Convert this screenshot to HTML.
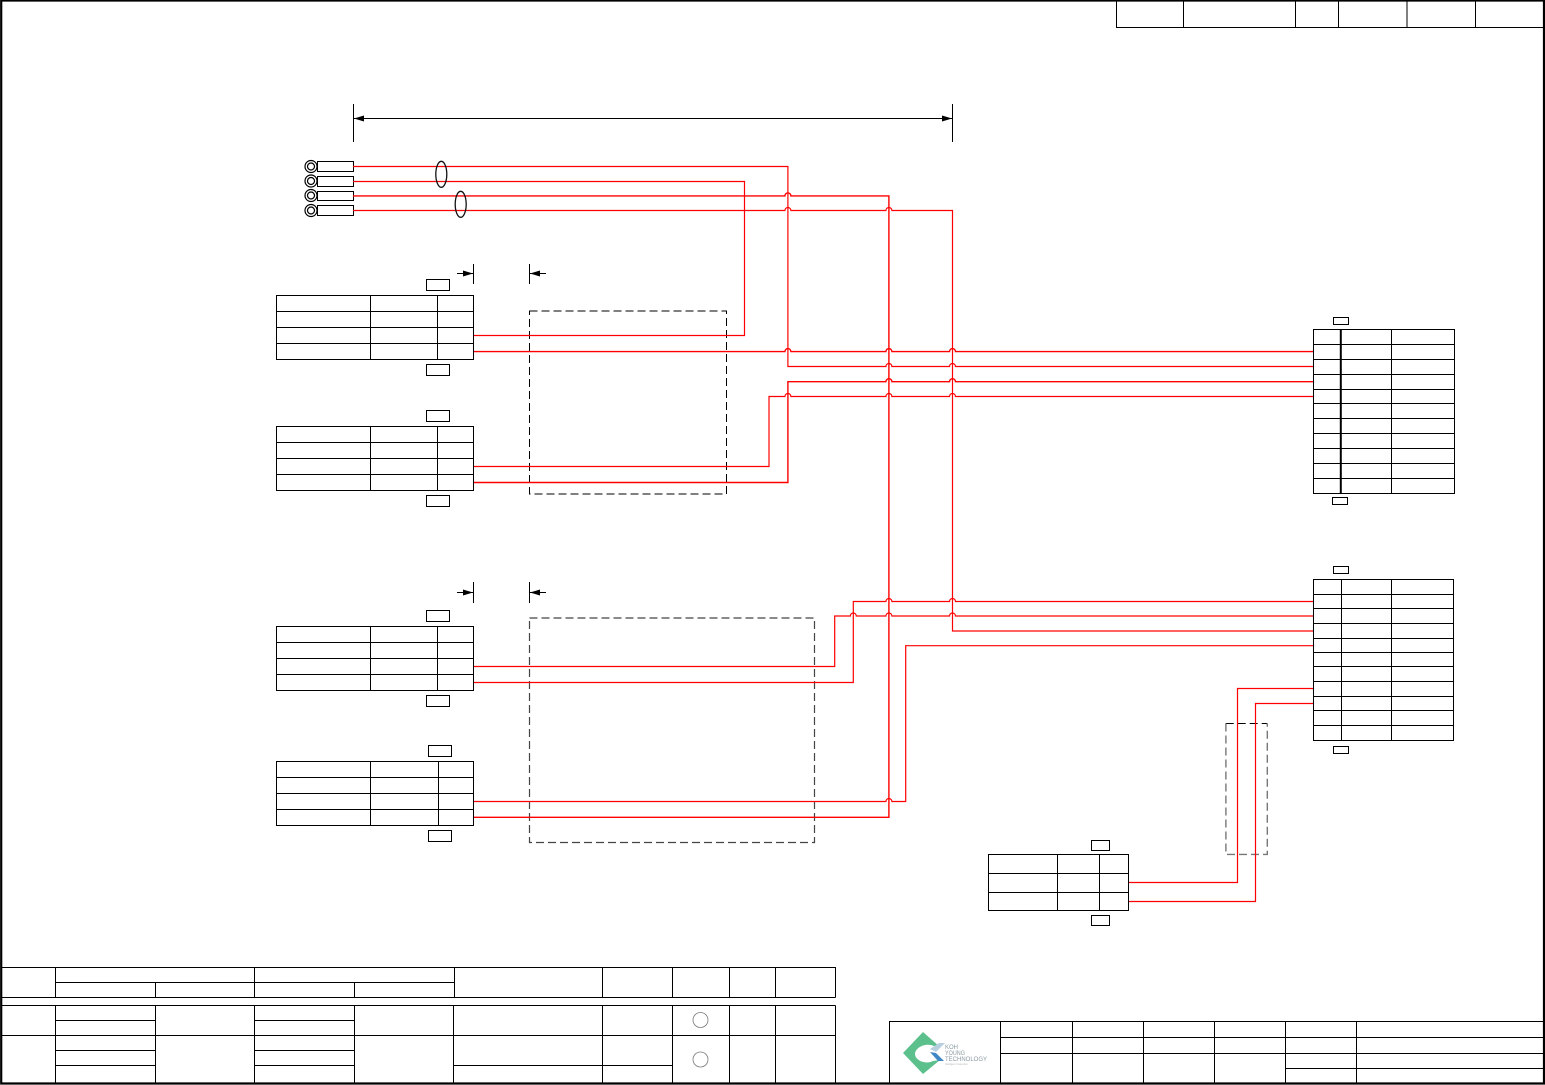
<!DOCTYPE html>
<html lang="en">
<head>
<meta charset="utf-8">
<title>Wiring Diagram</title>
<style>
html,body{margin:0;padding:0;background:#fff;}
svg{display:block;}
.k{fill:none;stroke:#000;stroke-width:1;}
.w{fill:none;stroke:#f00;stroke-width:1.2;}
.f{fill:none;stroke:#f00;stroke-width:1.4;}
.b{fill:#fff;stroke:#000;stroke-width:1;}
</style>
</head>
<body>
<svg xmlns="http://www.w3.org/2000/svg" width="1545" height="1085" viewBox="0 0 1545 1085">
<rect width="1545" height="1085" fill="#fff"/>
<!-- outer frame -->
<path d="M1.2 0.5H1544V1083.5H1.2Z" fill="none" stroke="#000" stroke-width="2.2"/>

<!-- top title block -->
<path class="k" d="M1116.5 0V27.5H1544M1183.5 0V27.5M1295.5 0V27.5M1338.5 0V27.5M1407 0V27.5M1475.5 0V27.5"/>

<!-- top dimension -->
<path class="k" d="M353.5 104V142M952.5 104V142M354 118.5H952"/>
<path d="M354 118.5L364 115.5V121.5Z M952 118.5L942 115.5V121.5Z" fill="#000"/>

<!-- ferrules -->
<g fill="none" stroke="#000" stroke-width="1.2">
<circle cx="311" cy="166.5" r="6"/><circle cx="311" cy="166.5" r="3.5"/>
<circle cx="311" cy="181" r="6"/><circle cx="311" cy="181" r="3.5"/>
<circle cx="311" cy="195.5" r="6"/><circle cx="311" cy="195.5" r="3.5"/>
<circle cx="311" cy="210.5" r="6"/><circle cx="311" cy="210.5" r="3.5"/>
</g>
<rect class="b" x="317.5" y="161.5" width="36" height="10"/>
<rect class="b" x="317.5" y="176.5" width="36" height="10"/>
<rect class="b" x="317.5" y="191.5" width="36" height="9"/>
<rect class="b" x="317.5" y="205.5" width="36" height="10"/>

<!-- dashed shields -->
<rect x="529.5" y="311" width="197" height="183" fill="none" stroke="#000" stroke-width="1" stroke-dasharray="8 4"/>
<rect x="529.5" y="618" width="285" height="224.5" fill="none" stroke="#444" stroke-width="1.2" stroke-dasharray="8 4"/>
<path d="M1225.7 723.5H1267.3" fill="none" stroke="#000" stroke-width="1" stroke-dasharray="8 4"/>
<path d="M1225.9 723.5V854.4H1267.3V723.5" fill="none" stroke="#777" stroke-width="1.4" stroke-dasharray="8 4"/>

<!-- small dimension marks -->
<path class="k" d="M473.5 264V284M529.5 264V284M457 273.5H473M530 273.5H546"/>
<path d="M473 273.5L463 270.5V276.5Z M530 273.5L540 270.5V276.5Z" fill="#000"/>
<path class="k" d="M473.5 582V603M529.5 582V603M457 592.5H473M530 592.5H546"/>
<path d="M473 592.5L463 589.5V595.5Z M530 592.5L540 589.5V595.5Z" fill="#000"/>

<!-- wires -->
<path class="w" d="M353 166.5H787.9V366.5H885.9a3 3 0 0 1 6 0H949.5a3 3 0 0 1 6 0H1313"/>
<path class="w" d="M353 181.5H744.5V335.5H473"/>
<path class="f" d="M353 195.9H784.9a3 3 0 0 1 6 0H888.9V817.3H473"/>
<path class="w" d="M353 210.5H784.9a3 3 0 0 1 6 0H885.9a3 3 0 0 1 6 0H952.5V631H1313"/>
<path class="f" d="M473 351.6H784.9a3 3 0 0 1 6 0H885.9a3 3 0 0 1 6 0H949.5a3 3 0 0 1 6 0H1313"/>
<path class="w" d="M473 466.5H769V396.5H784.9a3 3 0 0 1 6 0H885.9a3 3 0 0 1 6 0H949.5a3 3 0 0 1 6 0H1313"/>
<path class="f" d="M473 482.5H787.9V381.7H885.9a3 3 0 0 1 6 0H949.5a3 3 0 0 1 6 0H1313"/>
<path class="w" d="M473 666.5H834.7V616H850.3a3 3 0 0 1 6 0H885.9a3 3 0 0 1 6 0H949.5a3 3 0 0 1 6 0H1313"/>
<path class="w" d="M473 682.5H853.3V601.5H885.9a3 3 0 0 1 6 0H949.5a3 3 0 0 1 6 0H1313"/>
<path class="w" d="M473 801.5H885.9a3 3 0 0 1 6 0H905.7V645.7H1313"/>
<path class="w" d="M1128.5 882.5H1237.5V688.5H1313"/>
<path class="w" d="M1128.5 901.5H1255.5V703.5H1313"/>

<!-- cable ellipses -->
<ellipse cx="441.3" cy="174.3" rx="5.5" ry="13" fill="none" stroke="#111" stroke-width="1.3"/>
<ellipse cx="460.7" cy="204.3" rx="5.5" ry="13" fill="none" stroke="#111" stroke-width="1.3"/>

<!-- left connector tables -->
<path class="k" d="M276.5 295.5H473.5V359.5H276.5ZM276.5 311.5H473.5M276.5 327.5H473.5M276.5 343.5H473.5M370.5 295.5V359.5M437.5 295.5V359.5"/>
<rect class="b" x="426.5" y="279.5" width="23" height="11"/>
<rect class="b" x="426.5" y="364.5" width="23" height="11"/>

<path class="k" d="M276.5 426.5H473.5V490.5H276.5ZM276.5 442.5H473.5M276.5 458.5H473.5M276.5 474.5H473.5M370.5 426.5V490.5M437.5 426.5V490.5"/>
<rect class="b" x="426.5" y="410.5" width="23" height="11"/>
<rect class="b" x="426.5" y="495.5" width="23" height="11"/>

<path class="k" d="M276.5 626.5H473.5V690.5H276.5ZM276.5 642.5H473.5M276.5 658.5H473.5M276.5 674.5H473.5M370.5 626.5V690.5M437.5 626.5V690.5"/>
<rect class="b" x="426.5" y="610.5" width="23" height="11"/>
<rect class="b" x="426.5" y="695.5" width="23" height="11"/>

<path class="k" d="M276.5 761.5H473.5V825.5H276.5ZM276.5 777.5H473.5M276.5 793.5H473.5M276.5 809.5H473.5M370.5 761.5V825.5M438.5 761.5V825.5"/>
<rect class="b" x="428.5" y="745.5" width="23" height="11"/>
<rect class="b" x="428.5" y="830.5" width="23" height="11"/>

<!-- bottom centre connector -->
<path class="k" d="M988.5 854.5H1128.5V910.5H988.5ZM988.5 873.5H1128.5M988.5 892.5H1128.5M1057.5 854.5V910.5M1099.5 854.5V910.5"/>
<rect class="b" x="1091.5" y="840.5" width="18" height="10"/>
<rect class="b" x="1091.5" y="915.5" width="18" height="10"/>

<!-- right table 1 -->
<path class="k" d="M1313.5 329.5H1454.5V493.5H1313.5ZM1313.5 344.5H1454.5M1313.5 359.5H1454.5M1313.5 374.5H1454.5M1313.5 389.5H1454.5M1313.5 403.5H1454.5M1313.5 418.5H1454.5M1313.5 433.5H1454.5M1313.5 448.5H1454.5M1313.5 463.5H1454.5M1313.5 478.5H1454.5M1391.5 329.5V493.5"/>
<path d="M1340.8 329.5V493.5" fill="none" stroke="#000" stroke-width="2"/>
<rect class="b" x="1333.5" y="317.5" width="15" height="7"/>
<rect class="b" x="1332.5" y="497.5" width="15" height="7"/>

<!-- right table 2 -->
<path class="k" d="M1313.5 579.5H1453.5V740.5H1313.5ZM1313.5 594.5H1453.5M1313.5 608.5H1453.5M1313.5 623.5H1453.5M1313.5 638.5H1453.5M1313.5 652.5H1453.5M1313.5 666.5H1453.5M1313.5 681.5H1453.5M1313.5 696.5H1453.5M1313.5 710.5H1453.5M1313.5 725.5H1453.5M1341.5 579.5V740.5M1391.5 579.5V740.5"/>
<rect class="b" x="1333.5" y="566.5" width="15" height="7"/>
<rect class="b" x="1333.5" y="746.5" width="15" height="7"/>

<!-- revision table -->
<path class="k" d="M2 967.5H835.5V997.5M2 997.5H835.5M2 1005.5H835.5M2 1035.5H835.5M55.5 982.5H454.5
M55.5 967.5V997.5M155.5 982.5V997.5M254.5 967.5V997.5M354.5 982.5V997.5M454.5 967.5V997.5
M602.5 967.5V997.5M672.5 967.5V997.5M729.5 967.5V997.5M775.5 967.5V997.5
M55.5 1020.5H155.5M254.5 1020.5H354.5M55.5 1050.5H155.5M254.5 1050.5H354.5M55.5 1065.5H155.5M254.5 1065.5H354.5M453.5 1065.5H672.5
M55.5 1005.5V1083M155.5 1005.5V1083M254.5 1005.5V1083M354.5 1005.5V1083M453.5 1005.5V1083M602.5 1005.5V1083M672.5 1005.5V1083M729.5 1005.5V1083M775.5 1005.5V1083M835.5 1005.5V1083"/>
<circle cx="700.5" cy="1020" r="7.5" fill="none" stroke="#777" stroke-width="0.8"/>
<circle cx="700.5" cy="1059.5" r="7.5" fill="none" stroke="#777" stroke-width="0.8"/>

<!-- title block bottom right -->
<path class="k" d="M889.5 1083V1021.5H1544M1000.5 1037.5H1544M1000.5 1053.5H1544M1285.5 1068.5H1544
M1000.5 1021.5V1083M1072.5 1021.5V1083M1143.5 1021.5V1083M1214.5 1021.5V1083M1285.5 1021.5V1083M1356.5 1021.5V1083"/>

<!-- logo -->
<path d="M923 1032L940 1047L934 1046C925 1042 915 1048 915 1054C915 1060 925 1065 933 1061L940 1060L923 1074L903 1053Z" fill="#5cc08c"/>
<path d="M939 1043L945 1043L936 1052L930 1049Z" fill="#b8cfe0"/>
<path d="M930 1052L936 1053L944 1061L938 1061Z" fill="#3f86c4"/>
<g font-family="'Liberation Sans',sans-serif" fill="#8a9aa0" font-size="6">
<text x="945" y="1049" textLength="13" lengthAdjust="spacingAndGlyphs">KOH</text>
<text x="945" y="1055" textLength="20" lengthAdjust="spacingAndGlyphs">YOUNG</text>
<text x="945" y="1061" textLength="42" lengthAdjust="spacingAndGlyphs">TECHNOLOGY</text>
<text x="945" y="1065" font-size="2.5" fill="#b0b8bb">Intelligent Inspection</text>
</g>
</svg>
</body>
</html>
